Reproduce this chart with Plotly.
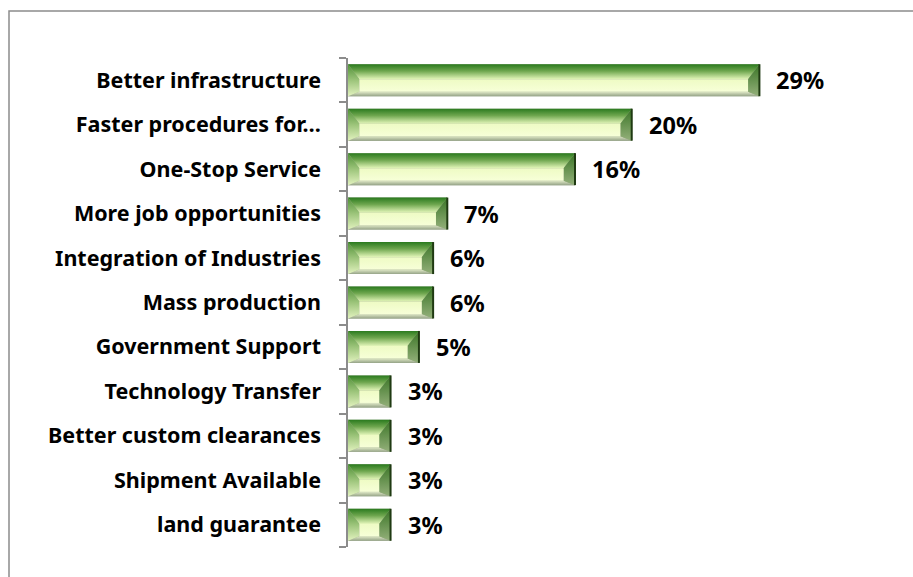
import plotly.graph_objects as go

# Survey results: expected benefits, share of respondents (%)
categories = [
    "Better infrastructure",
    "Faster procedures for…",
    "One-Stop Service",
    "More job opportunities",
    "Integration of Industries",
    "Mass production",
    "Government Support",
    "Technology Transfer",
    "Better custom clearances",
    "Shipment Available",
    "land guarantee",
]
shares = [29, 20, 16, 7, 6, 6, 5, 3, 3, 3, 3]
share_labels = [f"{v}%" for v in shares]

positions = list(range(len(categories)))

# Bevel geometry (axis units): half bar thickness, top/bottom bevel depth, side bevel depth
HALF = 0.36
TOP_BEVEL = 0.34
BOTTOM_BEVEL = 0.10
SIDE_BEVEL = 0.8

FONT = "Noto Sans"

fig = go.Figure()

# Base bar layer
fig.add_trace(go.Bar(
    x=shares, y=positions, orientation="h", width=2 * HALF,
    marker=dict(color="#98a68a", line=dict(width=0)),
    hoverinfo="skip", showlegend=False,
))


def poly(xs, ys, scale, y0, y1):
    fig.add_trace(go.Scatter(
        x=xs + [xs[0]], y=ys + [ys[0]], mode="lines", fill="toself",
        line=dict(width=0, color="rgba(0,0,0,0)"),
        fillgradient=dict(type="vertical", colorscale=scale, start=y0, stop=y1),
        hoverinfo="skip", showlegend=False,
    ))


TOP_SCALE = [[0, "#2a7a1e"], [0.45, "#6ea64e"], [1, "#e4f6ba"]]
BOTTOM_SCALE = [[0, "#95a387"], [1, "#dfe8c6"]]
LEFT_SCALE = [[0, "#4f9036"], [0.5, "#9cc47a"], [1, "#e2f2bf"]]
RIGHT_SCALE = [[0, "#3a7526"], [1, "#94b07a"]]
FACE_SCALE = [[0, "#eefbc4"], [1, "#f7ffd8"]]

for p, v in zip(positions, shares):
    t = p - HALF
    b = p + HALF
    ft = t + TOP_BEVEL
    fb = b - BOTTOM_BEVEL
    d = SIDE_BEVEL
    poly([0, v, v - d, d], [t, t, ft, ft], TOP_SCALE, t, ft)
    poly([0, v, v - d, d], [b, b, fb, fb], BOTTOM_SCALE, b, fb)
    poly([0, d, d, 0], [t, ft, fb, b], LEFT_SCALE, t, b)
    poly([v, v - d, v - d, v], [t, ft, fb, b], RIGHT_SCALE, t, b)
    poly([d, v - d, v - d, d], [ft, ft, fb, fb], FACE_SCALE, ft, fb)
    # dark right edge
    fig.add_trace(go.Scatter(
        x=[v, v], y=[t, b], mode="lines",
        line=dict(width=2, color="#1f3a12"),
        hoverinfo="skip", showlegend=False,
    ))

# Value labels at bar ends
for p, v, lab in zip(positions, shares, share_labels):
    fig.add_annotation(
        x=v, y=p, text=lab, showarrow=False, xanchor="left", yanchor="middle",
        xshift=15, font=dict(family=FONT, size=23.5, color="#000000", weight="bold"),
    )

boundaries = [p - 0.5 for p in positions] + [positions[-1] + 0.5]

fig.update_layout(
    width=913, height=577,
    margin=dict(l=348, r=33, t=58, b=30),
    paper_bgcolor="#ffffff", plot_bgcolor="#ffffff",
    barmode="overlay",
    xaxis=dict(range=[0, 37.5], visible=False, fixedrange=True),
    yaxis=dict(
        range=[len(categories) - 0.5, -0.5],
        tickvals=boundaries, ticktext=[""] * len(boundaries),
        ticks="outside", ticklen=7, tickcolor="#8c8c8c", tickwidth=1.5,
        showline=True, linecolor="#8c8c8c", linewidth=1.5,
        showgrid=False, zeroline=False, fixedrange=True,
    ),
    yaxis2=dict(
        range=[len(categories) - 0.5, -0.5], overlaying="y",
        tickvals=positions, ticktext=categories,
        ticks="", showline=False, showgrid=False, zeroline=False,
        ticklabelstandoff=26,
        tickfont=dict(family=FONT, size=21.5, color="#000000", weight="bold"),
        fixedrange=True,
    ),
    showlegend=False,
    shapes=[dict(
        type="rect", xref="paper", yref="paper",
        x0=(9 - 348) / 532, x1=(930 - 348) / 532,
        y0=(547 - 600) / 489, y1=(547 - 11) / 489,
        line=dict(color="#8c8c8c", width=1.5), fillcolor="rgba(0,0,0,0)",
        layer="below",
    )],
)

# An invisible trace anchors the label axis
fig.add_trace(go.Scatter(
    x=[None], y=[None], yaxis="y2", hoverinfo="skip", showlegend=False,
))

fig.write_html("out.html")
